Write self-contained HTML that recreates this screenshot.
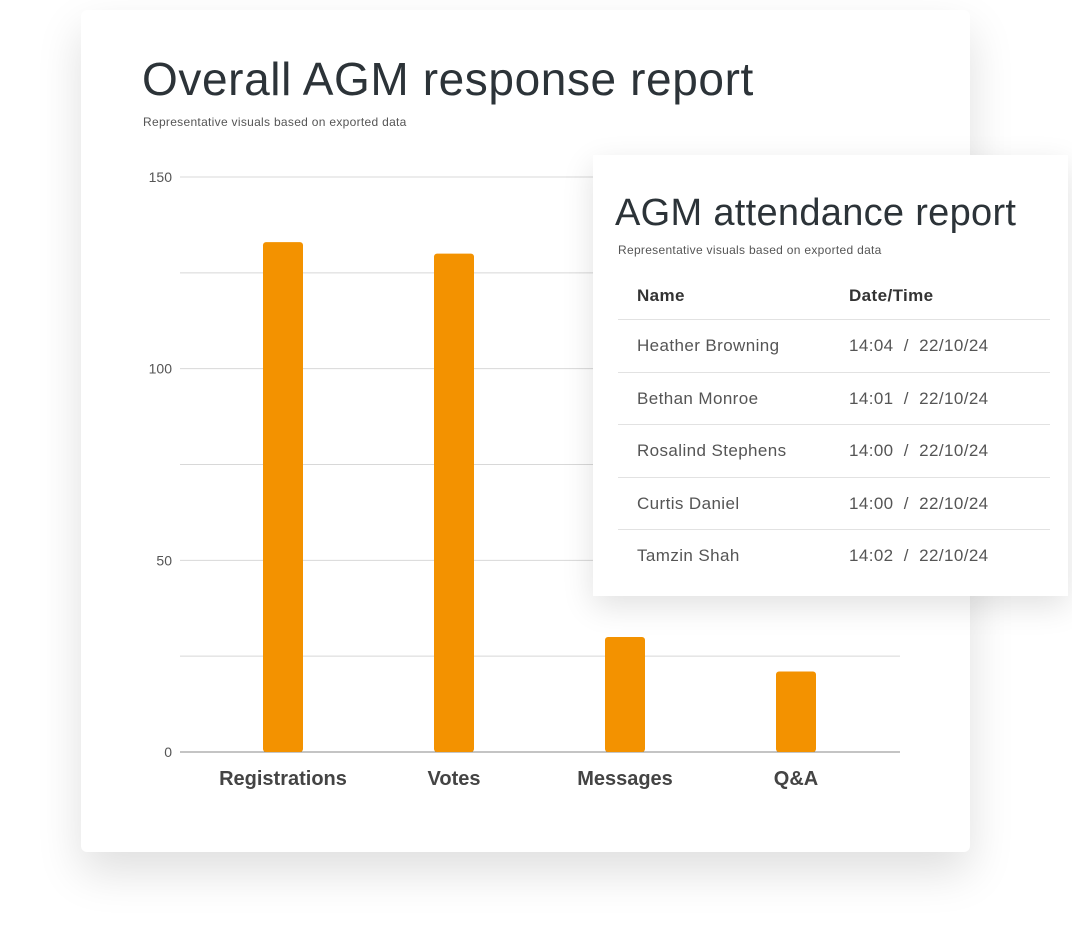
<!DOCTYPE html>
<html><head><meta charset="utf-8"><style>
body{margin:0;width:1072px;height:935px;background:#fff;position:relative;overflow:hidden;font-family:"Liberation Sans",sans-serif;}
.card{position:absolute;left:81px;top:10px;width:889px;height:842px;background:#fff;border-radius:6px;box-shadow:0 20px 45px rgba(0,0,0,0.13);}
.tcard{position:absolute;left:593px;top:155px;width:475px;height:441px;background:#fff;box-shadow:0 10px 30px rgba(0,0,0,0.12);}
.t{position:absolute;white-space:nowrap;color:#333a40;}
.row{position:absolute;left:25px;width:432px;border-top:1px solid #e2e2e2;}
.cell{position:absolute;font-size:17px;letter-spacing:0.4px;color:#555;white-space:nowrap;}
</style></head><body>
<div class="card"></div>
<div class="t" style="left:142px;top:52px;font-size:46px;letter-spacing:0.6px;color:#2c3338;">Overall AGM response report</div>
<div class="t" style="left:143px;top:115px;font-size:12px;letter-spacing:0.3px;color:#555;">Representative visuals based on exported data</div>
<svg id="chart" width="1072" height="935" style="position:absolute;left:0;top:0"></svg>
<div class="tcard">
<div class="t" style="left:22px;top:37px;font-size:38px;letter-spacing:0.3px;color:#2c3338;">AGM attendance report</div>
<div class="t" style="left:25px;top:88px;font-size:12px;letter-spacing:0.3px;color:#555;">Representative visuals based on exported data</div>
<div class="cell" style="left:44px;top:131px;font-weight:bold;color:#333;">Name</div>
<div class="cell" style="left:256px;top:131px;font-weight:bold;color:#333;">Date/Time</div>
<div id="rows"></div>
</div>
<script>
const categories=["Registrations","Votes","Messages","Q&A"];
const values=[133,130,30,21];
const ticks=[0,50,100,150];
const grid=[0,25,50,75,100,125,150];
const names=["Heather Browning","Bethan Monroe","Rosalind Stephens","Curtis Daniel","Tamzin Shah"];
const times=["14:04  /  22/10/24","14:01  /  22/10/24","14:00  /  22/10/24","14:00  /  22/10/24","14:02  /  22/10/24"];
const NS="http://www.w3.org/2000/svg",svg=document.getElementById('chart');
const y=v=>752-v*(575/150), x=i=>283+i*171;
function el(t,a){const e=document.createElementNS(NS,t);for(const k in a)e.setAttribute(k,a[k]);svg.appendChild(e);return e;}
grid.forEach(g=>{const l=el('line',{x1:180,x2:900,y1:y(g),y2:y(g),stroke:g?'#d8d8d8':'#888','stroke-width':1});

});
ticks.forEach(t=>{const e=el('text',{x:172,y:y(t)+5,'text-anchor':'end','font-size':14,fill:'#555','font-family':'Liberation Sans'});e.textContent=t;

});
values.forEach((v,i)=>{const r=el('rect',{x:x(i)-20,y:y(v),width:40,height:y(0)-y(v),rx:3,fill:'#f39200'});


const t=el('text',{x:x(i),y:785,'text-anchor':'middle','font-size':20,'font-weight':'bold',fill:'#444','font-family':'Liberation Sans'});t.textContent=categories[i];

});
const rows=document.getElementById('rows');
names.forEach((n,i)=>{const top=164+i*52.5;
const r=document.createElement('div');r.className='row';r.style.top=top+'px';r.style.height='52px';


const a=document.createElement('div');a.className='cell';a.style.left='19px';a.style.top='16px';a.textContent=n;


const b=document.createElement('div');b.className='cell';b.style.left='231px';b.style.top='16px';b.style.whiteSpace='pre';b.textContent=times[i];


r.appendChild(a);r.appendChild(b);rows.appendChild(r);});
</script>
</body></html>
